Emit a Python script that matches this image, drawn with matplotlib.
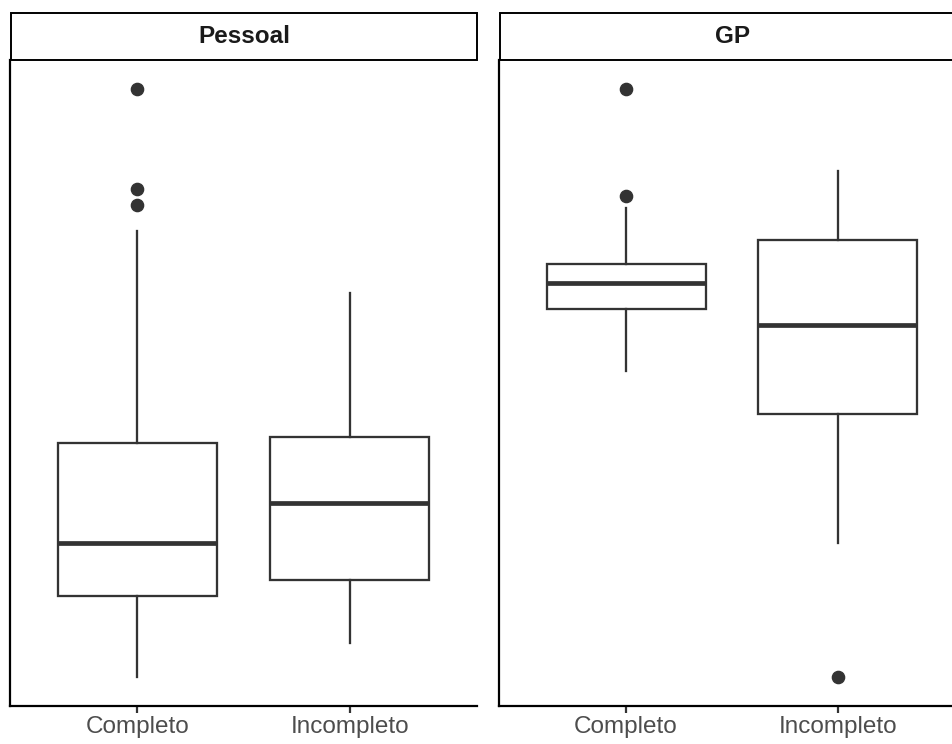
import matplotlib
matplotlib.use("Agg")
import matplotlib.pyplot as plt
from matplotlib.patches import Rectangle

plt.rcParams["font.family"] = ["Liberation Sans", "DejaVu Sans"]

# Categories and panels
categories = ["Completo", "Incompleto"]
panels = ["Pessoal", "GP"]

# Five-number summaries per panel: [whisker low, Q1, median, Q3, whisker high]
pessoal_completo = [1.00, 1.55, 1.91, 2.59, 4.03]
pessoal_completo_out = [4.21, 4.32, 5.00]
pessoal_incompleto = [1.23, 1.66, 2.18, 2.63, 3.61]
pessoal_incompleto_out = []

gp_completo = [3.08, 3.50, 3.68, 3.81, 4.19]
gp_completo_out = [4.27, 5.00]
gp_incompleto = [1.91, 2.79, 3.39, 3.97, 4.44]
gp_incompleto_out = [1.00]

panel_data = {
    "Pessoal": [(pessoal_completo, pessoal_completo_out),
                (pessoal_incompleto, pessoal_incompleto_out)],
    "GP": [(gp_completo, gp_completo_out),
           (gp_incompleto, gp_incompleto_out)],
}

W, H = 952, 744
fig = plt.figure(figsize=(W / 100, H / 100), dpi=100)

dark = "#333333"
# panel geometry in pixels: (left, width)
geom = {"Pessoal": (10, 467), "GP": (499, 466)}
panel_top, panel_bottom = 59.5, 706
strip_top = 13.3

for name in panels:
    left, width = geom[name]
    ax = fig.add_axes([left / W, (H - panel_bottom) / H, width / W,
                       (panel_bottom - panel_top) / H])
    stats = []
    for cat, (five, out) in zip(categories, panel_data[name]):
        stats.append(dict(label=cat, whislo=five[0], q1=five[1], med=five[2],
                          q3=five[3], whishi=five[4], fliers=out))
    ax.bxp(stats, positions=[1, 2], widths=0.75, showcaps=False,
           patch_artist=True,
           boxprops=dict(facecolor="white", edgecolor=dark, linewidth=1.65),
           whiskerprops=dict(color=dark, linewidth=1.65),
           medianprops=dict(color=dark, linewidth=3.4, solid_capstyle="butt"),
           flierprops=dict(marker="o", markersize=8.8, markerfacecolor=dark,
                           markeredgecolor=dark, linestyle="none"))
    vals = []
    for five, out in panel_data[name]:
        vals += five + out
    lo, hi = min(vals), max(vals)
    pad = 0.05 * (hi - lo)
    ax.set_ylim(lo - pad, hi + pad)
    ax.set_xlim(0.4, 2.6)
    ax.set_xticks([1, 2])
    ax.set_xticklabels(categories, fontsize=17.5, color="#4D4D4D")
    ax.tick_params(axis="x", length=5, width=1.6, color=dark, pad=2.5)
    ax.set_yticks([])
    for s in ["top", "right"]:
        ax.spines[s].set_visible(False)
    for s in ["left", "bottom"]:
        ax.spines[s].set_linewidth(1.6)
        ax.spines[s].set_color("black")

    # facet strip
    sx = (left + 1) / W
    sw = (width - 1) / W
    sy = (H - panel_top) / H
    sh = (panel_top - strip_top) / H
    fig.patches.append(Rectangle((sx, sy), sw, sh, transform=fig.transFigure,
                                 facecolor="white", edgecolor="black",
                                 linewidth=1.4, clip_on=False))
    fig.text(sx + sw / 2, sy + sh / 2, name, ha="center", va="center",
             fontsize=17.5, fontweight="bold", color="#1A1A1A")

fig.savefig("out.png", dpi=100, facecolor="white")
